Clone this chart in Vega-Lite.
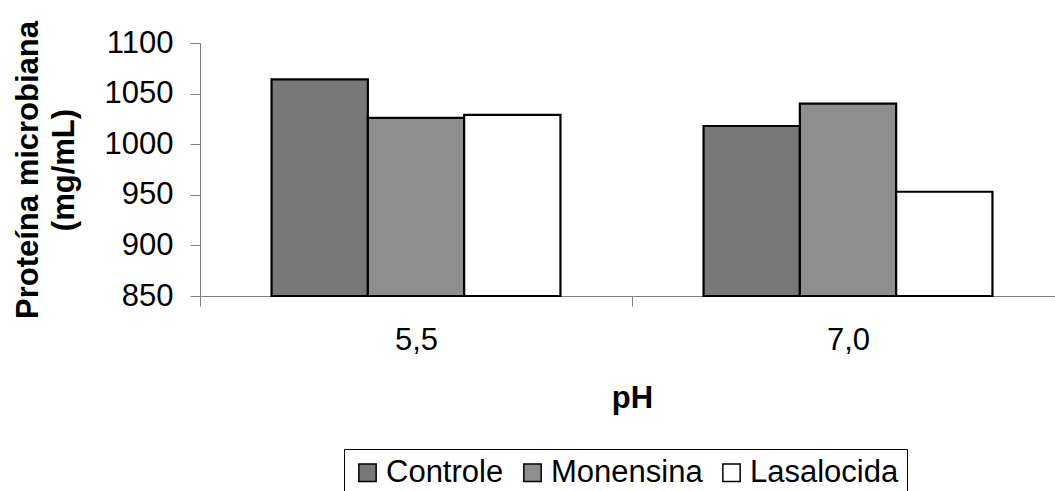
{
  "$schema": "https://vega.github.io/schema/vega-lite/v6.json",
  "width": 855,
  "height": 253,
  "autosize": {"type": "none"},
  "padding": {"left": 200, "top": 43, "right": 0, "bottom": 195},
  "background": "white",
  "config": {"view": {"stroke": null}, "font": "Liberation Sans"},
  "data": {
    "values": [
      {"pH": "5,5", "Tratamento": "Controle", "valor": 1064},
      {"pH": "5,5", "Tratamento": "Monensina", "valor": 1026},
      {"pH": "5,5", "Tratamento": "Lasalocida", "valor": 1029},
      {"pH": "7,0", "Tratamento": "Controle", "valor": 1018},
      {"pH": "7,0", "Tratamento": "Monensina", "valor": 1040},
      {"pH": "7,0", "Tratamento": "Lasalocida", "valor": 953}
    ]
  },
  "mark": {"type": "bar", "stroke": "black", "strokeWidth": 2.2},
  "encoding": {
    "x": {
      "field": "pH",
      "type": "nominal",
      "sort": ["5,5", "7,0"],
      "scale": {"range": [0, 864], "paddingInner": 0, "paddingOuter": 0},
      "axis": {
        "title": "pH",
        "labelAngle": 0,
        "labelFontSize": 31,
        "labelColor": "black",
        "labelPadding": 19,
        "tickSize": 10,
        "tickBand": "extent",
        "domainColor": "#808080",
        "tickColor": "#808080",
        "titleFontSize": 31,
        "titleFontWeight": "bold",
        "titleColor": "black",
        "titleX": 432,
        "titleY": 111,
        "titleBaseline": "alphabetic",
        "titleAlign": "center"
      }
    },
    "xOffset": {
      "field": "Tratamento",
      "sort": ["Controle", "Monensina", "Lasalocida"],
      "scale": {"paddingInner": 0, "paddingOuter": 0.743}
    },
    "y": {
      "field": "valor",
      "type": "quantitative",
      "scale": {"domain": [850, 1100], "zero": false, "nice": false},
      "axis": {
        "values": [850, 900, 950, 1000, 1050, 1100],
        "format": "d",
        "title": ["Proteína microbiana", "(mg/mL)"],
        "grid": false,
        "tickSize": 10,
        "labelPadding": 17,
        "labelFontSize": 31,
        "labelColor": "black",
        "domainColor": "#808080",
        "tickColor": "#808080",
        "titleFontSize": 31,
        "titleFontWeight": "bold",
        "titleColor": "black",
        "titleAngle": -90,
        "titleX": -163,
        "titleY": 126.5,
        "titleBaseline": "alphabetic",
        "titleAlign": "center",
        "titleLineHeight": 36
      }
    },
    "y2": {"datum": 850},
    "color": {
      "field": "Tratamento",
      "type": "nominal",
      "sort": ["Controle", "Monensina", "Lasalocida"],
      "scale": {"domain": ["Controle", "Monensina", "Lasalocida"], "range": ["#787878", "#8e8e8e", "#ffffff"]},
      "legend": {
        "orient": "none",
        "legendX": 144,
        "legendY": 406,
        "direction": "horizontal",
        "title": null,
        "symbolType": "square",
        "symbolSize": 300,
        "symbolStrokeColor": "black",
        "symbolStrokeWidth": 1.5,
        "symbolOpacity": 1,
        "labelFontSize": 31,
        "labelColor": "black",
        "labelOffset": 3,
        "columnPadding": 13,
        "padding": 8,
        "strokeColor": "black",
        "fillColor": "white"
      }
    }
  }
}
